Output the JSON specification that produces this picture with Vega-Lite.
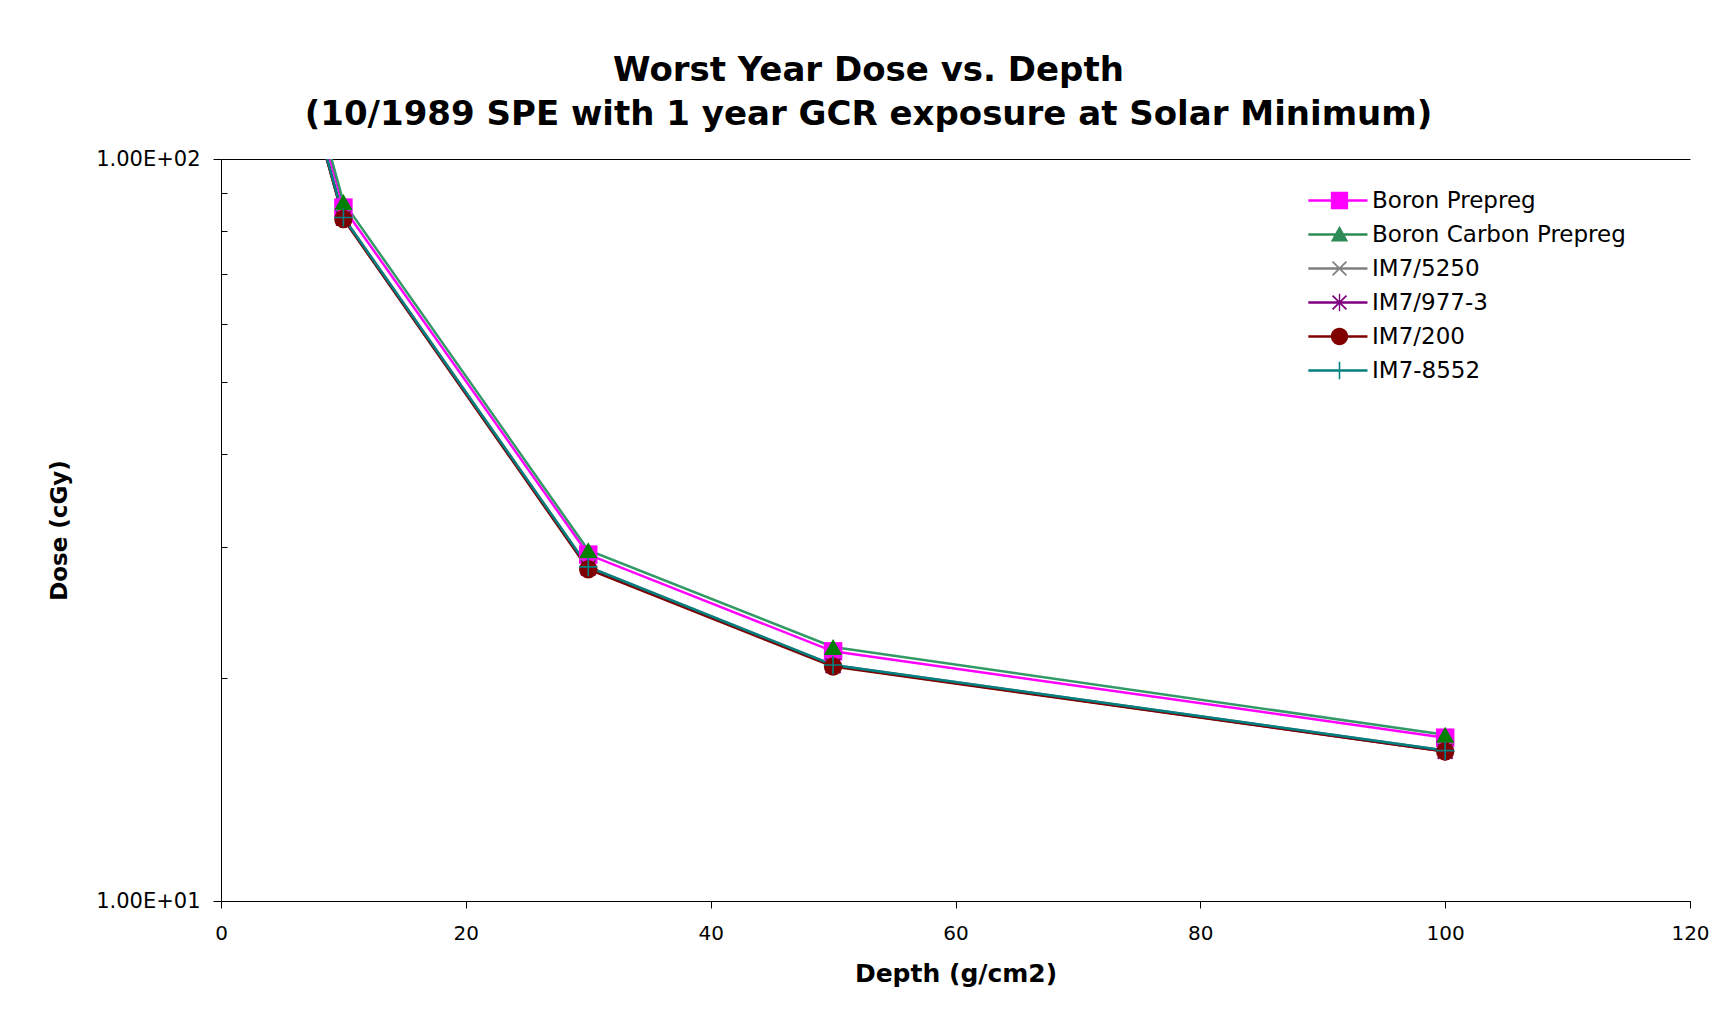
{
  "$schema": "https://vega.github.io/schema/vega-lite/v6.json",
  "width": 1469,
  "height": 742,
  "autosize": {"type": "none"},
  "padding": {"left": 221, "top": 159, "right": 39, "bottom": 115},
  "background": "white",
  "config": {"view": {"stroke": null}, "font": "DejaVu Sans"},
  "title": {
    "text": ["Worst Year Dose vs. Depth", "(10/1989 SPE with 1 year GCR exposure at Solar Minimum)"],
    "font": "DejaVu Sans",
    "fontSize": 34,
    "fontWeight": "bold",
    "color": "black",
    "anchor": "middle",
    "dx": -87,
    "lineHeight": 44,
    "offset": 16
  },
  "data": {
    "values": [
      {"series": "Boron Prepreg", "depth": 5, "dose": 170},
      {"series": "Boron Prepreg", "depth": 10, "dose": 86},
      {"series": "Boron Prepreg", "depth": 30, "dose": 29.3},
      {"series": "Boron Prepreg", "depth": 50, "dose": 21.7},
      {"series": "Boron Prepreg", "depth": 100, "dose": 16.6},
      {"series": "Boron Carbon Prepreg", "depth": 5, "dose": 174},
      {"series": "Boron Carbon Prepreg", "depth": 10, "dose": 87.5},
      {"series": "Boron Carbon Prepreg", "depth": 30, "dose": 29.7},
      {"series": "Boron Carbon Prepreg", "depth": 50, "dose": 22.0},
      {"series": "Boron Carbon Prepreg", "depth": 100, "dose": 16.75},
      {"series": "IM7/5250", "depth": 5, "dose": 165},
      {"series": "IM7/5250", "depth": 10, "dose": 83.5},
      {"series": "IM7/5250", "depth": 30, "dose": 28.2},
      {"series": "IM7/5250", "depth": 50, "dose": 20.8},
      {"series": "IM7/5250", "depth": 100, "dose": 15.95},
      {"series": "IM7/977-3", "depth": 5, "dose": 164},
      {"series": "IM7/977-3", "depth": 10, "dose": 83.2},
      {"series": "IM7/977-3", "depth": 30, "dose": 28.1},
      {"series": "IM7/977-3", "depth": 50, "dose": 20.75},
      {"series": "IM7/977-3", "depth": 100, "dose": 15.9},
      {"series": "IM7/200", "depth": 5, "dose": 164},
      {"series": "IM7/200", "depth": 10, "dose": 83.0},
      {"series": "IM7/200", "depth": 30, "dose": 28.0},
      {"series": "IM7/200", "depth": 50, "dose": 20.7},
      {"series": "IM7/200", "depth": 100, "dose": 15.9},
      {"series": "IM7-8552", "depth": 5, "dose": 165},
      {"series": "IM7-8552", "depth": 10, "dose": 83.4},
      {"series": "IM7-8552", "depth": 30, "dose": 28.2},
      {"series": "IM7-8552", "depth": 50, "dose": 20.8},
      {"series": "IM7-8552", "depth": 100, "dose": 15.95}
    ]
  },
  "encoding": {
    "x": {
      "field": "depth",
      "type": "quantitative",
      "scale": {"domain": [0, 120], "nice": false, "zero": false},
      "axis": {
        "values": [0, 20, 40, 60, 80, 100, 120],
        "format": "d",
        "title": "Depth (g/cm2)",
        "titleFont": "DejaVu Sans",
        "titleFontSize": 25,
        "titleFontWeight": "bold",
        "titleColor": "black",
        "titlePadding": 18,
        "labelFont": "DejaVu Sans",
        "labelFontSize": 20,
        "labelColor": "black",
        "labelPadding": 15,
        "labelFlush": false,
        "labelOverlap": false,
        "tickSize": 7,
        "tickColor": "black",
        "domainColor": "black",
        "grid": false
      }
    }
  },
  "layer": [
    {
      "mark": {"type": "line", "clip": true, "strokeWidth": 2.5},
      "encoding": {
        "y": {
          "field": "dose",
          "type": "quantitative",
          "scale": {"type": "log", "domain": [10, 100], "nice": false},
          "axis": {
            "orient": "left",
            "values": [10, 100],
            "labelExpr": "datum.value >= 100 ? '1.00E+02' : '1.00E+01'",
            "title": "Dose (cGy)",
            "titleFont": "DejaVu Sans",
            "titleFontSize": 23,
            "titleFontWeight": "bold",
            "titleColor": "black",
            "titlePadding": 24,
            "labelFont": "DejaVu Sans",
            "labelFontSize": 21,
            "labelColor": "black",
            "labelPadding": 13,
            "labelFlush": false,
            "labelOverlap": false,
            "tickSize": 8,
            "tickColor": "black",
            "domainColor": "black",
            "grid": true,
            "gridColor": "black",
            "gridOpacity": 1,
            "gridWidth": 1
          }
        },
        "stroke": {
          "field": "series",
          "type": "nominal",
          "scale": {
            "domain": ["Boron Prepreg", "Boron Carbon Prepreg", "IM7/5250", "IM7/977-3", "IM7/200", "IM7-8552"],
            "range": ["#FF00FF", "#339966", "#808080", "#800080", "#800000", "#008080"]
          },
          "legend": null
        }
      }
    },
    {
      "mark": {"type": "point", "clip": true, "filled": true, "size": 340, "opacity": 1, "strokeWidth": 0},
      "encoding": {
        "y": {
          "field": "dose",
          "type": "quantitative",
          "scale": {"type": "log", "domain": [10, 100], "nice": false},
          "axis": {
            "orient": "left",
            "values": [20, 30, 40, 50, 60, 70, 80, 90],
            "labels": false,
            "title": null,
            "domain": false,
            "grid": false,
            "tickSize": 6,
            "offset": -6,
            "tickColor": "black"
          }
        },
        "fill": {
          "field": "series",
          "type": "nominal",
          "scale": {
            "domain": ["Boron Prepreg", "Boron Carbon Prepreg", "IM7/5250", "IM7/977-3", "IM7/200", "IM7-8552"],
            "range": ["#FF00FF", "#008000", "#808080", "#800080", "#800000", "#008080"]
          },
          "legend": null
        },
        "shape": {
          "field": "series",
          "type": "nominal",
          "scale": {
            "domain": ["Boron Prepreg", "Boron Carbon Prepreg", "IM7/5250", "IM7/977-3", "IM7/200", "IM7-8552"],
            "range": [
              "square",
              "triangle-up",
              "M-0.73,-0.87L0.87,0.73L0.73,0.87L-0.87,-0.73ZM-0.73,0.87L-0.87,0.73L0.73,-0.87L0.87,-0.73Z",
              "M-0.73,-0.87L0.87,0.73L0.73,0.87L-0.87,-0.73ZM-0.73,0.87L-0.87,0.73L0.73,-0.87L0.87,-0.73ZM-0.08,-1L0.08,-1L0.08,1L-0.08,1Z",
              "circle",
              "M-0.09,-1H0.09V-0.09H1V0.09H0.09V1H-0.09V0.09H-1V-0.09H-0.09Z"
            ]
          },
          "legend": null
        }
      }
    },
    {
      "transform": [{"filter": "datum.depth < 0"}],
      "mark": {"type": "point", "filled": true, "size": 300, "strokeWidth": 0},
      "encoding": {
        "y": {
          "field": "dose",
          "type": "quantitative",
          "scale": {"type": "log", "domain": [10, 100], "nice": false},
          "axis": null
        },
        "fill": {
          "field": "series",
          "type": "nominal",
          "scale": {
            "domain": ["Boron Prepreg", "Boron Carbon Prepreg", "IM7/5250", "IM7/977-3", "IM7/200", "IM7-8552"],
            "range": ["#FF00FF", "#2E8B57", "#808080", "#800080", "#800000", "#008080"]
          },
          "legend": {
            "orient": "none",
            "legendX": 1107,
            "legendY": 30,
            "title": null,
            "padding": 0,
            "symbolSize": 300,
            "symbolStrokeWidth": 0,
            "symbolOpacity": 1,
            "labelFont": "DejaVu Sans",
            "labelFontSize": 23,
            "labelColor": "black",
            "labelOffset": 21,
            "labelLimit": 400,
            "rowPadding": 10
          }
        },
        "shape": {
          "field": "series",
          "type": "nominal",
          "scale": {
            "domain": ["Boron Prepreg", "Boron Carbon Prepreg", "IM7/5250", "IM7/977-3", "IM7/200", "IM7-8552"],
            "range": [
              "M-1,-1H1V1H-1ZM-3.6,-0.13H3.23V0.13H-3.6Z",
              "M0,-1L1,0.8L-1,0.8ZM-3.6,-0.13H3.23V0.13H-3.6Z",
              "M-0.73,-0.87L0.87,0.73L0.73,0.87L-0.87,-0.73ZM-0.73,0.87L-0.87,0.73L0.73,-0.87L0.87,-0.73ZM-3.6,-0.13H3.23V0.13H-3.6Z",
              "M-0.73,-0.87L0.87,0.73L0.73,0.87L-0.87,-0.73ZM-0.73,0.87L-0.87,0.73L0.73,-0.87L0.87,-0.73ZM-0.08,-1L0.08,-1L0.08,1L-0.08,1ZM-3.6,-0.13H3.23V0.13H-3.6Z",
              "M-1,0A1,1,0,1,1,1,0A1,1,0,1,1,-1,0ZM-3.6,-0.13H3.23V0.13H-3.6Z",
              "M-0.09,-1H0.09V-0.09H1V0.09H0.09V1H-0.09V0.09H-1V-0.09H-0.09ZM-3.6,-0.13H3.23V0.13H-3.6Z"
            ]
          },
          "legend": {
            "orient": "none",
            "legendX": 1107,
            "legendY": 30,
            "title": null,
            "padding": 0,
            "symbolSize": 300,
            "symbolStrokeWidth": 0,
            "symbolOpacity": 1,
            "labelFont": "DejaVu Sans",
            "labelFontSize": 23,
            "labelColor": "black",
            "labelOffset": 21,
            "labelLimit": 400,
            "rowPadding": 10
          }
        }
      }
    }
  ],
  "resolve": {
    "axis": {"y": "independent"},
    "scale": {"fill": "independent", "shape": "independent"}
  }
}
